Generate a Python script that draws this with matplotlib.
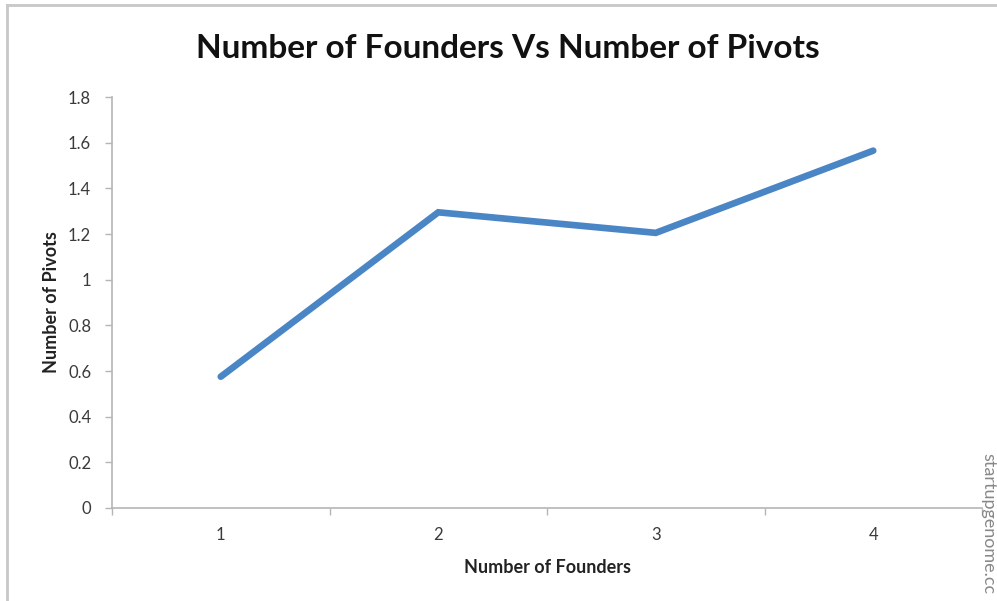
import matplotlib.pyplot as plt
from matplotlib.lines import Line2D

# data
founders = [1, 2, 3, 4]
pivots = [0.575, 1.295, 1.205, 1.565]
y_ticks = [0, 0.2, 0.4, 0.6, 0.8, 1, 1.2, 1.4, 1.6, 1.8]
y_labels = ['0', '0.2', '0.4', '0.6', '0.8', '1', '1.2', '1.4', '1.6', '1.8']

plt.rcParams['font.family'] = ['Lato', 'DejaVu Sans']

W, H = 997, 601
fig = plt.figure(figsize=(W / 100, H / 100), dpi=100)
ax = fig.add_axes([112 / W, 1 - 508 / H, (982 - 112) / W, (508 - 97) / H])

ax.plot(founders, pivots, color='#4a86c5', linewidth=4.8, solid_capstyle='round',
        solid_joinstyle='miter')

ax.set_xlim(0.5, 4.5)
ax.set_ylim(0, 1.8)

# excel-style category axis: marks between categories, labels at centres
ax.set_xticks([0.5, 1.5, 2.5, 3.5, 4.5])
ax.set_xticklabels([])
ax.set_xticks(founders, minor=True)
ax.set_xticklabels([str(f) for f in founders], minor=True)
ax.tick_params(axis='x', which='major', direction='out', length=5, color='#b5b5b5', width=1)
ax.tick_params(axis='x', which='minor', length=0, pad=14, labelsize=12, labelcolor='#3a3a3a')

ax.set_yticks(y_ticks)
ax.set_yticklabels(y_labels)
ax.tick_params(axis='y', direction='out', length=5, color='#b5b5b5', width=1,
               pad=10, labelsize=12, labelcolor='#3a3a3a')

for side in ['top', 'right']:
    ax.spines[side].set_visible(False)
for side in ['left', 'bottom']:
    ax.spines[side].set_color('#b5b5b5')
    ax.spines[side].set_linewidth(1.2)

ax.set_xlabel('Number of Founders', fontsize=13, fontweight='bold', color='#222222', labelpad=11)
ax.set_ylabel('Number of Pivots', fontsize=13, fontweight='bold', color='#222222', labelpad=6)

fig.text(508 / W, 1 - 48 / H, 'Number of Founders Vs Number of Pivots', ha='center', va='center',
         fontsize=24, fontweight='bold', color='#111111')

# watermark on the right edge
fig.text(988 / W, 1 - 453 / H, 'startupgenome.cc', rotation=-90, ha='center', va='top',
         fontsize=13, color='#888888')

# frame of the original screenshot
fig.add_artist(Line2D([7 / W, 1], [1 - 5 / H, 1 - 5 / H], transform=fig.transFigure,
                      color='#c8c8c8', linewidth=2))
fig.add_artist(Line2D([7 / W, 7 / W], [0, 1 - 5 / H], transform=fig.transFigure,
                      color='#c8c8c8', linewidth=2))

fig.savefig('out.png', dpi=100)
